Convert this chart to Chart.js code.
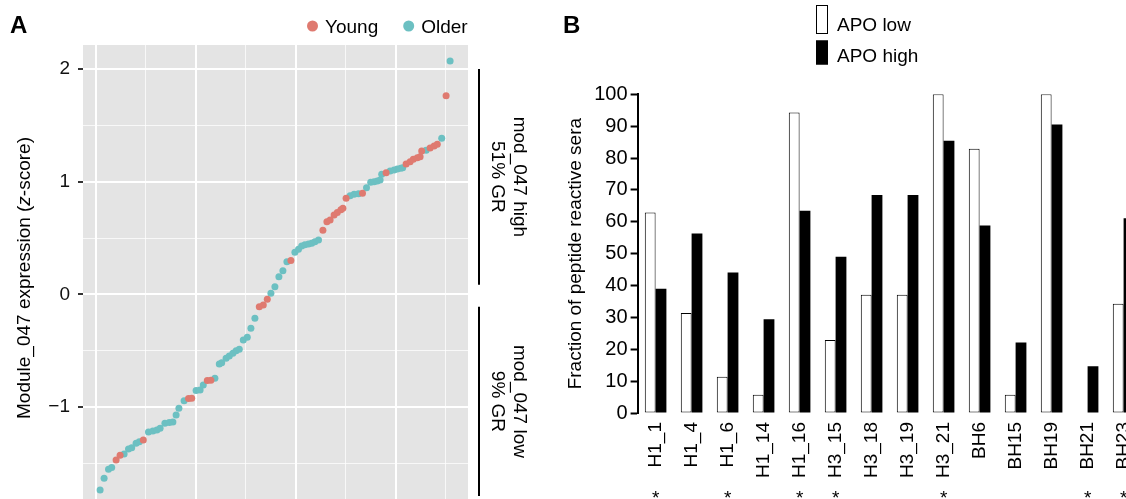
<!DOCTYPE html>
<html><head><meta charset="utf-8">
<script src="https://cdn.jsdelivr.net/npm/chart.js@4/dist/chart.umd.min.js"></script>
<style>
html,body{margin:0;padding:0;background:#fff;width:1126px;height:499px;overflow:hidden;position:relative}
canvas{position:absolute;top:0}
</style></head><body>
<canvas id="ca" width="560" height="540" style="left:0;width:560px;height:540px"></canvas>
<canvas id="cb" width="620" height="520" style="left:560px;width:620px;height:520px"></canvas>
<script>
// ---------- Panel A data ----------
const sampleRank = [1.1,2.1,3.2,4.0,5.1,6.1,7.1,8.2,9.0,10.1,
  10.9,11.9,13.2,14.3,15.3,16.1,17.3,18.4,19.3,20.1,
  20.8,22.1,23.2,24.0,25.1,26.1,26.9,27.9,28.8,29.8,
  30.9,31.5,32.6,33.4,34.3,35.1,35.9,36.9,37.9,38.8,
  39.8,40.9,41.9,42.9,43.8,44.8,45.8,46.8,47.8,48.8,
  49.8,50.7,51.5,52.3,53.2,54.0,54.8,55.7,56.8,57.8,
  58.6,59.6,60.4,61.3,61.8,62.6,63.6,64.6,65.7,66.7,
  67.7,68.75,69.6,70.4,71.1,71.5,72.6,73.6,74.6,75.4,
  76.25,76.75,77.6,78.6,79.4,80.4,81.1,81.5,82.6,83.6,
  84.6,85.4,86.5,87.6,88.6];
const moduleScore = [-1.736,-1.632,-1.552,-1.536,-1.469,-1.428,-1.416,-1.372,-1.360,-1.321,
  -1.307,-1.292,-1.221,-1.212,-1.203,-1.188,-1.144,-1.138,-1.132,-1.070,
  -1.011,-0.943,-0.925,-0.922,-0.854,-0.848,-0.804,-0.765,-0.762,-0.745,
  -0.618,-0.606,-0.567,-0.547,-0.523,-0.500,-0.487,-0.405,-0.381,-0.301,
  -0.212,-0.110,-0.094,-0.044,0.010,0.068,0.157,0.210,0.290,0.300,
  0.374,0.400,0.430,0.440,0.447,0.453,0.468,0.483,0.570,0.645,
  0.660,0.705,0.726,0.750,0.764,0.853,0.876,0.888,0.894,0.897,
  0.947,0.995,1.000,1.006,1.015,1.066,1.080,1.095,1.104,1.113,
  1.119,1.124,1.157,1.178,1.199,1.213,1.222,1.272,1.280,1.300,
  1.317,1.332,1.385,1.763,2.071];
const ageGroup = ['O','O','O','O','Y','Y','O','O','O','O',
  'O','Y','O','O','O','O','O','O','O','O',
  'O','O','Y','Y','O','O','O','Y','Y','O',
  'O','O','O','O','O','O','O','O','O','O',
  'O','Y','Y','Y','O','O','O','O','O','Y',
  'O','O','O','O','O','O','O','O','Y','Y',
  'Y','Y','Y','Y','Y','Y','O','O','O','Y',
  'O','O','O','O','O','O','Y','O','O','O',
  'O','O','Y','Y','Y','Y','Y','Y','O','Y',
  'Y','Y','O','Y','O'];
const groupCodes = ['Y','O'];
const groupNames = ['Young','Older'];
const yMajorTicksA = [-1,0,1,2];
const yMinorTicksA = [-1.5,-0.5,0.5,1.5];
const xMajorGridA = [0,25,50,75];
const xMinorGridA = [12.5,37.5,62.5,87.5];
const bracketRanges = [[0.085,2.0],[-1.79,-0.11]];
const bracketLabels = [['mod_047 high','51% GR'],['mod_047 low','9% GR']];

// ---------- Panel B data ----------
const peptides = ['H1_1','H1_4','H1_6','H1_14','H1_16','H3_15','H3_18','H3_19','H3_21','BH6','BH15','BH19','BH21','BH23'];
const apoLow  = [62.9,31.4,11.4,5.7,94.3,22.9,37.1,37.1,100,82.9,5.7,100,0,34.3];
const apoHigh = [39.0,56.3,44.1,29.4,63.5,49.0,68.4,68.4,85.4,58.8,22.1,90.5,14.7,61.1];
const significance = ['*','','*','','*','*','','','*','','','','*','*'];
const seriesNames = ['APO low','APO high'];

// ---------- styles ----------
const FONT = "'Liberation Sans', Arial, Helvetica, sans-serif";
Chart.defaults.font.family = FONT;
Chart.defaults.color = '#000';
const groupColors = ['#df7a70','#6cc0c2'];
const panelBg = '#e4e4e4';

// ---------- Panel A ----------
const datasetsA = groupCodes.map((code, gi) => ({
  label: groupNames[gi],
  data: moduleScore.map((v, i) => ({x: sampleRank[i], y: v, g: ageGroup[i]})).filter(p => p.g === code),
  backgroundColor: groupColors[gi],
  borderWidth: 0,
  pointRadius: 3.5,
  pointHoverRadius: 3.5
}));

const panelADecor = {
  id: 'panelADecor',
  beforeDraw(chart) {
    const {ctx, chartArea: a} = chart;
    ctx.save();
    ctx.fillStyle = panelBg;
    ctx.fillRect(a.left, a.top, a.right - a.left, a.bottom - a.top);
    ctx.restore();
  },
  afterDraw(chart) {
    const {ctx, chartArea: a, scales} = chart;
    const ys = scales.y;
    ctx.save();
    // panel letter
    ctx.fillStyle = '#000';
    ctx.font = 'bold 24px ' + FONT;
    ctx.textBaseline = 'alphabetic';
    ctx.textAlign = 'left';
    ctx.fillText('A', 10, 33);
    // legend
    ctx.font = '19px ' + FONT;
    let lx = 307;
    groupNames.forEach((name, gi) => {
      ctx.fillStyle = groupColors[gi];
      ctx.beginPath(); ctx.arc(lx + 5.5, 26, 5.5, 0, Math.PI * 2); ctx.fill();
      ctx.fillStyle = '#000';
      ctx.fillText(name, lx + 18, 32.5);
      lx += 18 + ctx.measureText(name).width + 25;
    });
    // y axis title with italic z
    const parts = [['Module_047 expression (', ''], ['z', 'italic '], ['-score)', '']];
    let total = 0;
    parts.forEach(p => { ctx.font = p[1] + '19px ' + FONT; p.w = ctx.measureText(p[0]).width; total += p.w; });
    ctx.save();
    ctx.translate(25, (a.top + a.bottom) / 2 - 1);
    ctx.rotate(-Math.PI / 2);
    ctx.textBaseline = 'middle';
    let px = -total / 2;
    parts.forEach(p => { ctx.font = p[1] + '19px ' + FONT; ctx.fillText(p[0], px, 0); px += p.w; });
    ctx.restore();
    // brackets
    ctx.strokeStyle = '#000';
    ctx.lineWidth = 2;
    const bx = a.right + 11;
    bracketRanges.forEach((r, k) => {
      const y1 = ys.getPixelForValue(r[1]), y0 = ys.getPixelForValue(r[0]);
      ctx.beginPath(); ctx.moveTo(bx, y1); ctx.lineTo(bx, y0); ctx.stroke();
      ctx.save();
      ctx.translate(a.right + 40, (y0 + y1) / 2);
      ctx.rotate(Math.PI / 2);
      ctx.font = '19px ' + FONT;
      ctx.textAlign = 'center';
      ctx.textBaseline = 'middle';
      ctx.fillStyle = '#000';
      ctx.fillText(bracketLabels[k][0], 0, -11);
      ctx.fillText(bracketLabels[k][1], 0, 11);
      ctx.restore();
    });
    ctx.restore();
  }
};

const isMajorY = v => yMajorTicksA.includes(v);
const isMajorX = v => xMajorGridA.includes(v);

new Chart(document.getElementById('ca'), {
  type: 'scatter',
  data: {datasets: datasetsA},
  options: {
    responsive: false, animation: false, events: [],
    layout: {padding: {left: 0, top: 45, right: 92, bottom: 0}},
    plugins: {legend: {display: false}, tooltip: {enabled: false}},
    scales: {
      x: {
        type: 'linear', min: -3.175, max: 93.075,
        afterBuildTicks: s => { s.ticks = [...xMajorGridA, ...xMinorGridA].sort((a, b) => a - b).map(v => ({value: v})); },
        afterFit: s => { s.height = 27; },
        ticks: {display: false},
        grid: {color: c => isMajorX(c.tick.value) ? '#ffffff' : 'rgba(255,255,255,0.75)',
               lineWidth: c => isMajorX(c.tick.value) ? 2 : 1, drawTicks: false},
        border: {display: false}
      },
      y: {
        min: -1.94, max: 2.213,
        afterBuildTicks: s => { s.ticks = [...yMajorTicksA, ...yMinorTicksA].sort((a, b) => a - b).map(v => ({value: v})); },
        afterFit: s => { s.width = 83; },
        ticks: {
          callback: v => isMajorY(v) ? (v < 0 ? '\u2212' + Math.abs(v) : String(v)) : '',
          font: {size: 19}, color: '#111', padding: 8
        },
        grid: {
          color: c => isMajorY(c.tick.value) ? '#ffffff' : 'rgba(255,255,255,0.75)',
          lineWidth: c => isMajorY(c.tick.value) ? 2 : 1,
          drawTicks: true, tickLength: 5, tickWidth: 2,
          tickColor: c => isMajorY(c.tick.value) ? '#333' : 'rgba(0,0,0,0)'
        },
        border: {display: false}
      }
    }
  },
  plugins: [panelADecor]
});

// ---------- Panel B ----------
const barFill = ['#ffffff', '#000000'];
const panelBDecor = {
  id: 'panelBDecor',
  afterDraw(chart) {
    const {ctx, chartArea: a, scales} = chart;
    ctx.save();
    ctx.fillStyle = '#000';
    ctx.font = 'bold 24px ' + FONT;
    ctx.textAlign = 'left';
    ctx.textBaseline = 'alphabetic';
    ctx.fillText('B', 3, 33);
    // legend
    const boxes = [[5, 29], [40.5, 24]];
    const base = [31, 61.5];
    seriesNames.forEach((name, k) => {
      ctx.fillStyle = barFill[k];
      ctx.fillRect(256, boxes[k][0], 12, boxes[k][1]);
      ctx.strokeStyle = '#000'; ctx.lineWidth = 1;
      ctx.strokeRect(256.5, boxes[k][0] + 0.5, 11, boxes[k][1] - 1);
      ctx.fillStyle = '#000';
      ctx.font = '19px ' + FONT;
      ctx.fillText(name, 277, base[k]);
    });
    // significance stars
    ctx.textAlign = 'center';
    ctx.font = '19px ' + FONT;
    significance.forEach((s, i) => {
      if (s) ctx.fillText(s, scales.x.getPixelForValue(i), a.bottom + 91);
    });
    ctx.restore();
  }
};

new Chart(document.getElementById('cb'), {
  type: 'bar',
  data: {
    labels: peptides,
    datasets: [
      {label: seriesNames[0], data: apoLow, backgroundColor: barFill[0], borderColor: '#000', borderWidth: 1, borderSkipped: false},
      {label: seriesNames[1], data: apoHigh, backgroundColor: barFill[1], borderColor: '#000', borderWidth: 0}
    ]
  },
  options: {
    responsive: false, animation: false, events: [],
    layout: {padding: {left: 0, top: 94.3, right: 38.4, bottom: 0}},
    datasets: {bar: {barPercentage: 1, categoryPercentage: 0.6}},
    plugins: {legend: {display: false}, tooltip: {enabled: false}},
    scales: {
      x: {
        afterFit: s => { s.height = 107; },
        ticks: {minRotation: 90, maxRotation: 90, autoSkip: false, font: {size: 19}, color: '#000', padding: 9},
        grid: {display: false, drawTicks: false},
        border: {display: false}
      },
      y: {
        min: 0, max: 100,
        afterFit: s => { s.width = 77.6; },
        ticks: {stepSize: 10, font: {size: 20}, color: '#000', padding: 3},
        grid: {display: true, drawOnChartArea: false, drawTicks: true, tickLength: 7, tickWidth: 2, tickColor: '#000'},
        border: {display: true, color: '#000', width: 2},
        title: {display: true, text: 'Fraction of peptide reactive sera', font: {size: 19}, color: '#000', padding: {top: 4.6, bottom: 0}}
      }
    }
  },
  plugins: [panelBDecor]
});
</script>
</body></html>
